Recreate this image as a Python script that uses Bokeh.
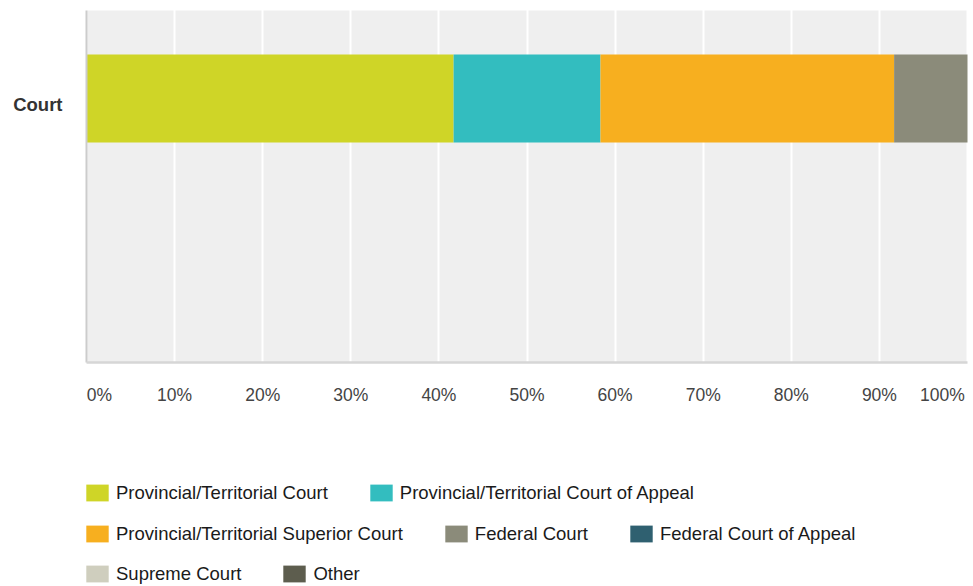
from bokeh.plotting import figure
from bokeh.models import Range1d, FixedTicker, Legend, LegendItem, Grid, ColumnDataSource
from bokeh.core.properties import value
from bokeh.embed import file_html
from bokeh.resources import INLINE

# ---- data ----
categories = ["Court"]
series = [
    "Provincial/Territorial Court",
    "Provincial/Territorial Court of Appeal",
    "Provincial/Territorial Superior Court",
    "Federal Court",
    "Federal Court of Appeal",
    "Supreme Court",
    "Other",
]
values = [41.67, 16.67, 33.33, 8.33, 0.0, 0.0, 0.0]
colors = ["#cfd527", "#33bdbf", "#f7af1f", "#8b8b7a", "#2f6070", "#cfcebe", "#5d5d4e"]
tick_values = [0, 10, 20, 30, 40, 50, 60, 70, 80, 90, 100]
tick_labels = ["0%", "10%", "20%", "30%", "40%", "50%", "60%", "70%", "80%", "90%", "100%"]
legend_rows = [[0, 1], [2, 3, 4], [5, 6]]

# ---- layout constants (pixels) ----
FONT = "Liberation Sans"
W, H = 973, 586
PL, PR, PT, PB = 86, 967, 10, 362       # grey plotting area
n_slots = 2
y_pos = [n_slots - 0.5 - i for i in range(len(categories))]

px_x = (PR - PL) / 100.0
px_y = (PB - PT) / n_slots
x_rng = Range1d(-PL / px_x, 100 + (W - PR) / px_x)
y_rng = Range1d(-(H - PB) / px_y, n_slots + PT / px_y)

p = figure(width=W, height=H, output_backend="svg", toolbar_location=None,
           x_range=x_rng, y_range=y_rng, x_axis_type=None, y_axis_type=None,
           min_border=0, min_border_left=0, min_border_right=0,
           min_border_top=0, min_border_bottom=0)
p.background_fill_color = "white"
p.border_fill_color = "white"
p.outline_line_color = None

# grey plot background
p.quad(left=[0], right=[100], bottom=[0], top=[n_slots], fill_color="#efefef",
       line_color=None, level="image")

# vertical white grid lines
p.add_layout(Grid(dimension=0, ticker=FixedTicker(ticks=tick_values),
                  grid_line_color="white", grid_line_width=2))

# stacked bar
keys = [f"s{i}" for i in range(len(series))]
data = dict(y=y_pos)
for k, v in zip(keys, values):
    data[k] = [v]
src = ColumnDataSource(data)
renderers = p.hbar_stack(keys, y="y", height=0.5, fill_color=colors, line_color=None, source=src)

# axis lines
p.segment(x0=[0], y0=[0], x1=[0], y1=[n_slots], line_color="#cccccc", line_width=2)
p.segment(x0=[0], y0=[0], x1=[100], y1=[0], line_color="#d6d6d6", line_width=2.5)

# category label
p.text(x=[0] * len(categories), y=y_pos, text=categories, x_offset=-24, y_offset=6,
       text_align="right", text_baseline="middle", text_font=value(FONT),
       text_font_size="18.5px", text_font_style="bold", text_color="#333333")

# x tick labels (end labels nudged inward like the original)
dx = [13] + [0] * (len(tick_values) - 2) + [-25]
tick_src = ColumnDataSource(dict(x=tick_values, text=tick_labels, dx=dx))
p.text(x="x", y=-(394 - PB) / px_y, text="text", x_offset="dx", source=tick_src,
       text_align="center", text_baseline="middle", text_font=value(FONT),
       text_font_size="17.5px", text_color="#444444")

# legends: three rows, positioned from the bottom-left of the canvas
row_centers = [493, 534, 574]
for row, cy in zip(legend_rows, row_centers):
    items = [LegendItem(label=series[i], renderers=[renderers[i]]) for i in row]
    leg = Legend(items=items, orientation="horizontal", location=(83, H - (cy + 10.5)),
                 padding=0, margin=0, spacing=39, label_standoff=5,
                 glyph_width=28, glyph_height=21, label_height=21,
                 label_text_font=FONT, label_text_font_size="18.5px",
                 label_text_color="#1a1a1a", border_line_color=None,
                 background_fill_alpha=0)
    p.add_layout(leg, "center")

open("out.html", "w").write(file_html(p, INLINE))
